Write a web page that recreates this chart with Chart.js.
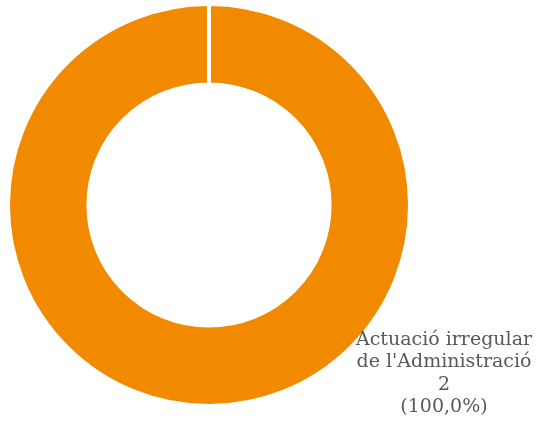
<!DOCTYPE html>
<html><head><meta charset="utf-8">
<script src="https://cdn.jsdelivr.net/npm/chart.js@4.4.0/dist/chart.umd.min.js"></script>
<style>html,body{margin:0;padding:0;background:#fff;}#wrap{width:536px;height:425px;}</style>
</head><body><div id="wrap"><canvas id="c"></canvas></div>
<script>
const categories = ["Actuació irregular de l'Administració"];
const labelLines = [["Actuació irregular", "de l'Administració"]];
const values = [2];
const colors = ["#F28A00"];

const labelPlugin = {
  id: 'sliceLabel',
  afterDraw(chart) {
    const ctx = chart.ctx;
    const data = chart.data.datasets[0].data;
    const total = data.reduce((a, b) => a + b, 0);
    ctx.save();
    ctx.font = '19px "DejaVu Serif", serif';
    ctx.fillStyle = '#595959';
    ctx.textAlign = 'center';
    ctx.textBaseline = 'middle';
    data.forEach((v, i) => {
      const pct = (v / total * 100).toFixed(1).replace('.', ',');
      const lines = labelLines[i].concat([String(v), '(' + pct + '%)']);
      const x = chart.chartArea.right + 32;
      let y = chart.chartArea.bottom - 68;
      lines.forEach(l => { ctx.fillText(l, x, y); y += 22.5; });
    });
    ctx.restore();
  }
};

new Chart(document.getElementById('c'), {
  type: 'doughnut',
  data: { labels: categories, datasets: [{ data: values, backgroundColor: colors, borderColor: '#ffffff', borderWidth: 4 }] },
  options: {
    responsive: true, maintainAspectRatio: false, animation: false,
    cutout: '60%',
    layout: { padding: { left: 6, right: 124, top: 2, bottom: 17 } },
    plugins: { legend: { display: false }, tooltip: { enabled: false } }
  },
  plugins: [labelPlugin]
});
</script></body></html>
